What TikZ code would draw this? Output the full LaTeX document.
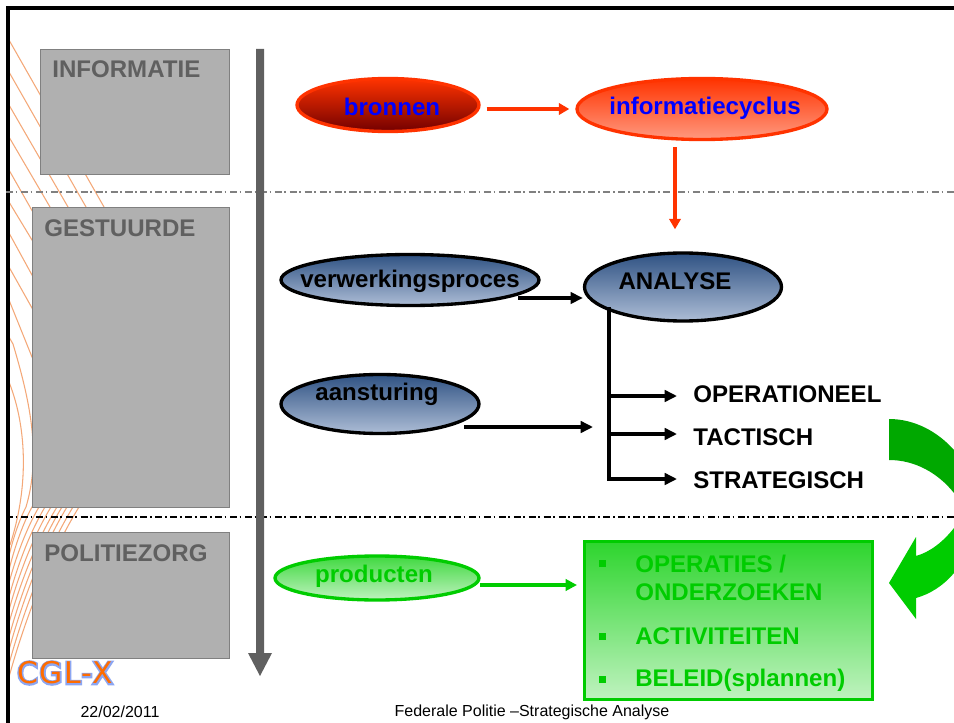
\documentclass[tikz,border=0pt]{standalone}
\usepackage{fontspec}
\setmainfont{Liberation Sans}
\newfontfamily\logofont[LetterSpace=5]{DejaVu Sans}
\usetikzlibrary{shapes.geometric,arrows.meta}
\definecolor{boxGrey}{HTML}{B0B0B0}
\definecolor{textGrey}{HTML}{606060}
\definecolor{redLine}{HTML}{FF3300}
\definecolor{greenLine}{HTML}{00CC00}
\definecolor{hatchOrange}{HTML}{F4A878}
\definecolor{blueTop}{HTML}{2F5283}
\definecolor{blueBottom}{HTML}{ADBDD6}
\newcommand{\logoStroke}[1]{\special{pdf:code q 1 Tr 1.7 w 0.55 0.65 0.95 RG}#1\special{pdf:code Q}}
\begin{document}
\begin{tikzpicture}[x=0.02cm,y=-0.02cm]
\tikzstyle{sideBox}=[fill=boxGrey,draw=gray,line width=0.8pt,inner sep=0pt,anchor=north west]
\tikzstyle{sideText}=[text=textGrey,font=\fontsize{13.7}{16}\bfseries\selectfont,anchor=west,inner sep=0pt]
\tikzstyle{oval}=[ellipse,line width=1.9pt,inner sep=0pt,shading=axis]
\tikzstyle{blueOval}=[oval,draw=black,top color=blueTop,bottom color=blueBottom]
\tikzstyle{ovalText}=[font=\fontsize{13.7}{16}\bfseries\selectfont,inner sep=0pt]
\tikzstyle{levelText}=[ovalText,anchor=west]
\tikzstyle{greenText}=[ovalText,anchor=west,text=greenLine]
\tikzstyle{bulletBox}=[fill=greenLine,minimum size=7*0.02cm,inner sep=0pt]
\tikzstyle{footText}=[font=\fontsize{9.1}{11}\selectfont,inner sep=0pt]
\tikzstyle{blackArrow}=[-{Triangle[length=7pt,width=6.5pt]},line width=1.9pt]
\tikzstyle{redArrow}=[-{Triangle[length=6pt,width=6.5pt]},line width=1.85pt,color=redLine]
\tikzstyle{greenArrow}=[-{Triangle[length=6.5pt,width=6.5pt]},line width=1.85pt,color=greenLine]

\useasboundingbox (0,0) rectangle (954,723);
\fill[white] (0,0) rectangle (954,723);

% hatching behind the boxes
\foreach \a/\tx/\ty/\dx/\bx/\e in {40/104/207/57/79/677,72/86/207/57/73/664,105/68/207/57/67/650,137/50/207/57/62/637,170/30/207/57/57/623,202/32/240/50/51/610,233/32/275/45/45/597,267/32/308/40/39/583,300/32/357/30/32/570,337/13/344/16/26/556}{
\draw[hatchOrange,line width=0.6pt] (9,\a) -- (\tx,\ty)
  .. controls ({\tx+\dx},{\ty+0.33*(507-\ty)}) and ({\bx+\dx},{507-0.33*(507-\ty)}) .. (\bx,507)
  .. controls ({\bx-0.45*(\bx-9)},{507+0.3*(\e-507)}) and ({9+0.2*(\bx-9)},{507+0.7*(\e-507)}) .. (9,\e);
}
\draw[hatchOrange,line width=0.6pt] (9,382) .. controls (28,430) and (28,490) .. (10,545);

% frame and separators
\draw[line width=1.8pt] (8,723) -- (8,8) -- (954,8);
\draw[gray,line width=0.6pt,dash pattern=on 4pt off 1.5pt on 1pt off 2pt] (6,192) -- (954,192);
\draw[black,line width=0.6pt,dash pattern=on 4pt off 1.5pt on 1pt off 2pt] (6,517) -- (954,517);

% left column
\node[sideBox,minimum width=189*0.02cm,minimum height=125*0.02cm] (informatieBox) at (40,49) {};
\node[sideBox,minimum width=197*0.02cm,minimum height=300*0.02cm] (gestuurdeBox) at (32,207) {};
\node[sideBox,minimum width=197*0.02cm,minimum height=126*0.02cm] (politiezorgBox) at (32,532) {};
\node[sideText] (informatie) at (52,69) {INFORMATIE};
\node[sideText] (gestuurde) at (44,228) {GESTUURDE};
\node[sideText] (politiezorg) at (44,553) {POLITIEZORG};

% time arrow
\fill[textGrey] (256,49) -- (264,49) -- (264,653) -- (272,653) -- (260,676) -- (248,653) -- (256,653) -- cycle;

% ovals
\node[oval,draw=redLine,top color=redLine,bottom color=red!45!black,minimum width=182*0.02cm,minimum height=53*0.02cm] (bronnen) at (388,105) {};
\node[oval,draw=redLine,top color=redLine,bottom color=redLine!50!white,minimum width=250*0.02cm,minimum height=61*0.02cm] (cyclus) at (702,109) {};
\node[blueOval,minimum width=258*0.02cm,minimum height=51*0.02cm] (verwerking) at (410,280) {};
\node[blueOval,minimum width=197*0.02cm,minimum height=68*0.02cm] (analyse) at (683,287) {};
\node[blueOval,minimum width=198*0.02cm,minimum height=59*0.02cm] (aansturing) at (380,404) {};
\node[oval,draw=greenLine,top color=greenLine!75!white,bottom color=greenLine!25!white,minimum width=204*0.02cm,minimum height=44*0.02cm] (producten) at (377,578) {};

\node[ovalText,text=blue] (bronnenLabel) at (392,107) {bronnen};
\node[ovalText,text=blue] (cyclusLabel) at (705,108) {informatiecyclus};
\node[ovalText] (verwerkingLabel) at (410,281) {verwerkingsproces};
\node[ovalText] (analyseLabel) at (675,281) {ANALYSE};
\node[ovalText] (aansturingLabel) at (377,394) {aansturing};
\node[ovalText,text=greenLine] (productenLabel) at (374,576) {producten};

% levels
\node[levelText] (operationeel) at (693,394) {OPERATIONEEL};
\node[levelText] (tactisch) at (693,437) {TACTISCH};
\node[levelText] (strategisch) at (693,480) {STRATEGISCH};

% green box
\node[draw=greenLine,line width=1.9pt,top color=greenLine!82!white,bottom color=greenLine!25!white,shading=axis,minimum width=288*0.02cm,minimum height=158*0.02cm,inner sep=0pt,anchor=north west] (resultBox) at (583,540) {};
\node[greenText] (operaties) at (635,564) {OPERATIES /};
\node[greenText] (onderzoeken) at (635,592) {ONDERZOEKEN};
\node[greenText] (activiteiten) at (635,636) {ACTIVITEITEN};
\node[greenText] (beleid) at (635,680) {BELEID(splannen)};
\node[bulletBox] (bulletA) at (602,563) {};
\node[bulletBox] (bulletB) at (602,636) {};
\node[bulletBox] (bulletC) at (602,679) {};

% free ends of the connectors
\coordinate (verwerkingOut) at (518,298);
\coordinate (aansturingOut) at (464,427);
\coordinate (aansturingIn) at (593,427);
\coordinate (trunkTop) at (609,307);
\coordinate (operationeelIn) at (677,396);
\coordinate (tactischIn) at (677,434);
\coordinate (strategischIn) at (677,479);
\coordinate (productenOut) at (480,585);

\draw[redArrow,shorten <=6*0.02cm,shorten >=6*0.02cm] (bronnen.east |- cyclus.west) -- (cyclus.west);
\draw[redArrow,shorten <=6*0.02cm,shorten >=22*0.02cm] (cyclus.south -| analyseLabel) -- (analyse.north -| analyseLabel);
\draw[blackArrow] (verwerkingOut) -- (verwerkingOut -| analyse.west);
\draw[blackArrow] (aansturingOut) -- (aansturingIn);
\draw[blackArrow] (trunkTop) |- (strategischIn);
\draw[blackArrow] (trunkTop |- operationeelIn) -- (operationeelIn);
\draw[blackArrow] (trunkTop |- tactischIn) -- (tactischIn);
\draw[greenArrow,shorten >=6*0.02cm] (productenOut) -- (productenOut -| resultBox.west);

% bent arrows
\fill[green!66!black] (889,419) .. controls (915,419) and (938,432) .. (954,450) -- (954,493) .. controls (938,473) and (915,460) .. (889,460) -- cycle;
\fill[greenLine] (889,583) -- (916,537) -- (916,556) .. controls (930,552) and (943,542) .. (954,528) -- (954,573) .. controls (943,586) and (930,594) .. (916,598) -- (916,619) -- cycle;

% logo
\node[text=orange!85!red,font=\logofont\fontsize{17}{20}\selectfont,inner sep=0pt] (logoHalo) at (65,673) {\logoStroke{CGL-X}};
\node[text=orange!85!red,font=\logofont\fontsize{17}{20}\selectfont,inner sep=0pt] (logo) at (65,673) {CGL-X};

% footer
\node[footText] (datum) at (120,712) {22/02/2011};
\node[footText] (titel) at (532,712) {Federale Politie –Strategische Analyse};
\end{tikzpicture}
\end{document}
